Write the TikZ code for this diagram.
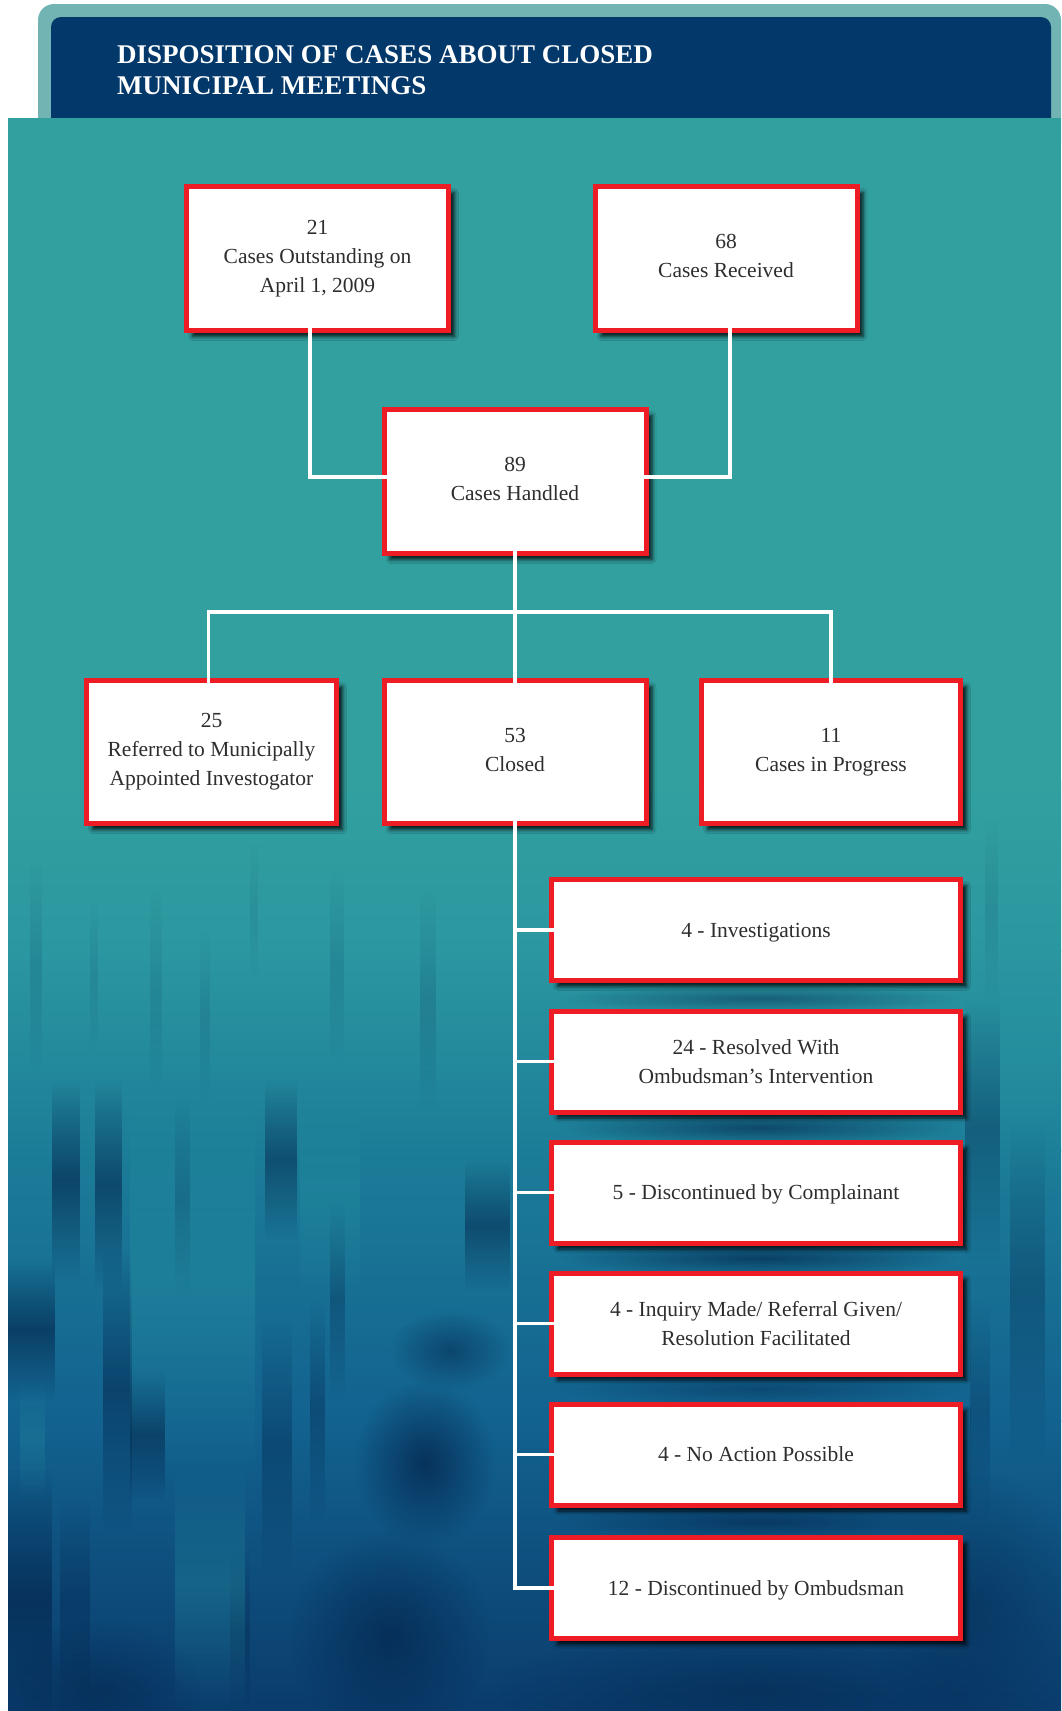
\documentclass[tikz,border=0pt]{standalone}
\usepackage{fontspec}
\setmainfont{Liberation Serif}
\usetikzlibrary{shadows.blur,fadings}
\definecolor{boxred}{HTML}{EE1D25}
\definecolor{txtgray}{HTML}{2E2E2E}
\definecolor{hdrblue}{HTML}{03386B}
\definecolor{hdrlight}{HTML}{72B4B4}
\definecolor{tealA}{HTML}{32A09F}
\definecolor{tealB}{HTML}{2B97A0}
\definecolor{tealC}{HTML}{1C7D98}
\definecolor{tealD}{HTML}{12628F}
\definecolor{navyE}{HTML}{0A3C6C}
\definecolor{blobc}{HTML}{03224A}
\definecolor{lightc}{HTML}{2A9AA6}
\tikzfading[name=softblob, inner color=transparent!10, outer color=transparent!100]
\tikzfading[name=vfade, top color=transparent!100, bottom color=transparent!100, middle color=transparent!0]
\begin{document}
\begin{tikzpicture}[x=1pt,y=-1pt,
  box/.style={draw=boxred, line width=5pt, fill=white, text=txtgray, align=center,
    inner sep=0pt, outer sep=0pt, font=\fontsize{21.5}{29}\selectfont,
    blur shadow={shadow xshift=6pt, shadow yshift=-6pt, shadow blur radius=4pt, shadow opacity=85}},
  bigbox/.style={box, minimum width=262pt, minimum height=144pt},
  smallbox/.style={box, minimum width=409pt, minimum height=101pt},
  oneline/.style={text depth=0pt},
  twoline/.style={text depth=5pt},
  conn/.style={draw=white, line width=3.2pt, shorten <=-2.5pt, shorten >=-2.5pt},
  blob/.style={fill=blobc, path fading=softblob},
  streak/.style={fill=blobc, path fading=vfade},
  lstreak/.style={fill=lightc, path fading=vfade},
  titletext/.style={anchor=base west, text=white, inner sep=0pt, font=\bfseries\fontsize{27}{31}\selectfont}
]
% page and header
\useasboundingbox (0,0) rectangle (1061,1711);
\fill[white] (0,0) rectangle (1061,1711);
\fill[hdrlight, rounded corners=16pt] (38,4) rectangle (1061,160);
\fill[hdrblue, rounded corners=10pt] (51,17) rectangle (1051,160);
% body background
\fill[tealA] (8,118) rectangle (1061,781);
\shade[top color=tealA, bottom color=tealB] (8,780) rectangle (1061,951);
\shade[top color=tealB, bottom color=tealC] (8,950) rectangle (1061,1151);
\shade[top color=tealC, bottom color=tealD] (8,1150) rectangle (1061,1421);
\shade[top color=tealD, bottom color=navyE] (8,1420) rectangle (1061,1711);
% texture
\begin{scope}
\clip (8,118) rectangle (1061,1711);
% faint streaks in the upper textured band
\foreach \xa/\xb/\ya/\yb/\op in {30/42/860/1070/.12, 150/162/890/1090/.1, 200/210/930/1100/.1,
  330/344/870/1060/.12, 420/436/890/1110/.15, 90/98/900/1050/.1, 250/258/840/980/.08,
  985/998/820/1000/.1}
  {\fill[streak, opacity=\op] (\xa,\ya) rectangle (\xb,\yb);}
% dark streaks lower left
\foreach \xa/\xb/\ya/\yb/\op in {52/80/1080/1280/.6, 95/122/1080/1290/.55, 7/55/1260/1400/.6,
  103/132/1250/1530/.5, 130/165/1370/1500/.6, 265/297/1080/1240/.5, 262/292/1320/1570/.35,
  465/510/1160/1290/.5, 0/52/1470/1730/.6, 175/190/1100/1300/.25, 330/345/1200/1400/.3,
  310/325/1300/1520/.35, 60/90/1500/1711/.35, 230/250/1550/1711/.3}
  {\fill[streak, opacity=\op] (\xa,\ya) rectangle (\xb,\yb);}
% lighter streaks
\foreach \xa/\xb/\ya/\yb/\op in {130/255/1080/1480/.35, 175/245/1460/1711/.3, 300/360/1100/1300/.25,
  20/45/1380/1500/.25}
  {\fill[lstreak, opacity=\op] (\xa,\ya) rectangle (\xb,\yb);}
% dark blobs
\fill[blob, opacity=.55] (390,1310) rectangle (510,1390);
\fill[blob, opacity=.8] (355,1380) rectangle (495,1545);
\fill[blob, opacity=.7] (290,1530) rectangle (490,1740);
\fill[blob, opacity=.5] (0,1620) rectangle (200,1760);
\fill[blob, opacity=.5] (500,1630) rectangle (1010,1750);
\fill[blob, opacity=.5] (560,985) rectangle (960,1012);
\fill[blob, opacity=.65] (560,1110) rectangle (960,1145);
\fill[blob, opacity=.7] (560,1240) rectangle (960,1276);
\fill[blob, opacity=.45] (560,1372) rectangle (960,1406);
\fill[blob, opacity=.6] (560,1503) rectangle (960,1540);
\fill[blob, opacity=.45] (870,1470) rectangle (1080,1740);
\fill[streak, opacity=.35] (965,1000) rectangle (1000,1260);
\fill[streak, opacity=.3] (1010,1120) rectangle (1045,1460);
\fill[streak, opacity=.25] (970,1300) rectangle (990,1520);
\fill[lstreak, opacity=.3] (1000,900) rectangle (1061,1200);
\end{scope}
% title
\node[titletext] (title1) at (117,63) {DISPOSITION OF CASES ABOUT CLOSED};
\node[titletext] (title2) at (117,94) {MUNICIPAL MEETINGS};
% boxes
\node[bigbox] (b21) at (317.5,258.5) {21\\Cases Outstanding on\\April 1, 2009};
\node[bigbox, twoline] (b68) at (726,258.5) {68\\Cases Received};
\node[bigbox, twoline] (b89) at (515,481.5) {89\\Cases Handled};
\node[box, minimum width=250pt, minimum height=143pt] (b25) at (211.5,752) {25\\Referred to Municipally\\Appointed Investogator};
\node[bigbox, twoline, minimum height=143pt] (b53) at (515,752) {53\\Closed};
\node[bigbox, minimum height=143pt, minimum width=259pt] (b11) at (831,752) {11\\Cases in Progress};
\node[smallbox, oneline] (s1) at (756,930) {4 - Investigations};
\node[smallbox] (s2) at (756,1061.5) {24 - Resolved With\\Ombudsman’s Intervention};
\node[smallbox, oneline] (s3) at (756,1192.5) {5 - Discontinued by Complainant};
\node[smallbox] (s4) at (756,1323.5) {4 - Inquiry Made/ Referral Given/\\Resolution Facilitated};
\node[smallbox, oneline] (s5) at (756,1454.5) {4 - No Action Possible};
\node[smallbox, oneline] (s6) at (756,1588) {12 - Discontinued by Ombudsman};
\coordinate (bar) at (515,612);
% connectors
\draw[conn] ([xshift=-7.5pt]b21.south) |- ([yshift=4.5pt]b89.west);
\draw[conn] ([xshift=4pt]b68.south) |- ([yshift=4.5pt]b89.east);
\draw[conn] (b89.south) -- (b53.north);
\draw[conn] ([xshift=-3pt]b25.north) |- (bar) -| (b11.north);
\foreach \s in {s1,s2,s3,s4,s5,s6}{
  \draw[conn] (b53.south) |- (\s.west);
}
\end{tikzpicture}
\end{document}
